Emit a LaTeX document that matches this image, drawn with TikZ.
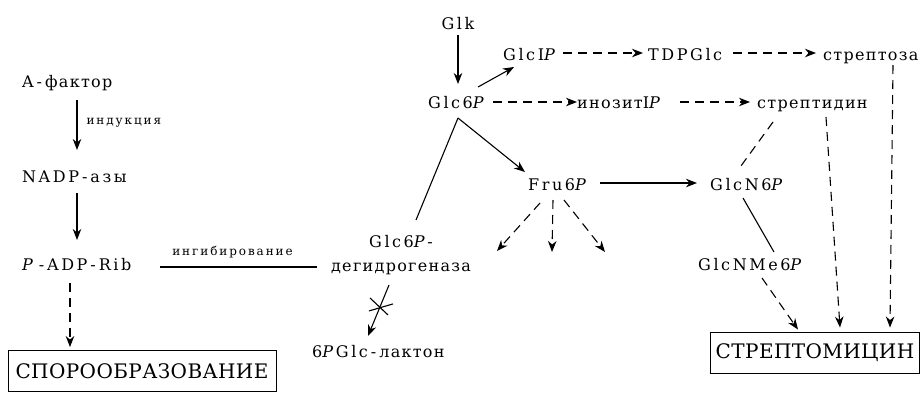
\documentclass[tikz,border=0pt]{standalone}
\usepackage{fontspec}
\setmainfont{DejaVu Serif}[LetterSpace=8]
% Latin names and small labels are set with wider tracking
\newfontfamily\latf{DejaVu Serif}[LetterSpace=16]
\newfontfamily\boxfont{DejaVu Serif}[LetterSpace=2]
\usetikzlibrary{arrows.meta,calc}
% hyphen with a little air on both sides
\newcommand\mhy{\kern3pt-\kern3pt}

\begin{document}
\begin{tikzpicture}[x=1pt,y=-1pt,
  lbl/.style={inner sep=0pt, anchor=base west, font=\fontsize{16}{24}\selectfont},
  lat/.style={lbl, font=\latf\fontsize{16}{24}\selectfont},
  sm/.style={inner sep=0pt, font=\latf\fontsize{12}{15}\selectfont},
  boxnode/.style={draw, line width=0.9pt, inner sep=0pt, minimum height=41pt,
    font=\boxfont\fontsize{20}{24}\selectfont},
  con/.style={line width=1.1pt},
  arr/.style={con, -{Stealth[length=11pt,width=8.5pt,inset=3.5pt]}},
  dsh/.style={dash pattern=on 9pt off 6pt},
]
\useasboundingbox (0,0) rectangle (921,400);

% left column: regulation of sporulation
\node[lbl] (fa) at (22,87) {{\latf A}\mhy фактор};
\node[lat] (nadp) at (22,182) {NADP\mhy азы};
\node[lat] (padp) at (22,270) {\textit{P}\mhy ADP\mhy Rib};
\node[boxnode, minimum width=268pt] (spor) at (142,371) {СПОРООБРАЗОВАНИЕ};

% central metabolism
\node[lat, anchor=base] (glk) at (458,29) {Glk};
\node[lat] (glc1p) at (503,60) {GlcI\textit{P}};
\node[lat] (glc6p) at (428,108) {Glc6\textit{P}};
\node[lbl] (inoz) at (577,108) {инозит{\latf I\textit{P}}};
\node[lat] (tdp) at (648,60) {TDPGlc};
\node[lbl] (sza) at (823,60) {стрептоза};
\node[lbl] (sdin) at (757,108) {стрептидин};
\node[lat] (fru) at (528,190) {Fru6\textit{P}};
\node[lat] (gn6) at (710,190) {GlcN6\textit{P}};
\node[lat] (gnme) at (698,270) {GlcNMe6\textit{P}};
\node[lbl, anchor=center, align=center] (g6pdh) at (401,255)
  {{\latf Glc6\textit{P}-}\\дегидрогеназа};
\node[lbl] (lak) at (312,357) {{\latf 6\textit{P}Glc}\mhy лактон};
\node[boxnode, minimum width=209pt] (strep) at (815,352.5) {СТРЕПТОМИЦИН};

% left column connectors
\draw[arr] ($(fa.base west)+(55,13)$) --
  node[sm, anchor=base west, xshift=9pt, yshift=1pt] {индукция}
  ($(nadp.base west)+(55,-32)$);
\draw[arr] ($(nadp.base west)+(55,11)$) -- ($(padp.base west)+(55,-30)$);
\draw[arr,dsh] ($(padp.base west)+(48,13)$) -- ($(spor.north)+(-72,-3)$);
\draw[con] ($(padp.base west)+(138,-3)$) --
  node[sm, anchor=base, yshift=12pt, xshift=-6pt] {ингибирование}
  ($(g6pdh.center)+(-84,12)$);

% glucose branch points
\coordinate (apex) at ($(glc6p.base west)+(30,10)$);
\draw[arr] ($(glk.base)+(0,6)$) -- ($(glc6p.base west)+(30,-24)$);
\draw[arr] ($(glc6p.base west)+(50,-21)$) -- ($(glc1p.base west)+(11,7)$);
\draw[arr,dsh] ($(glc6p.base west)+(65,-6)$) -- ($(inoz.base west)+(0,-6)$);
\draw[arr,dsh] ($(glc1p.base west)+(60,-7)$) -- ($(tdp.base west)+(-5,-7)$);
\draw[arr,dsh] ($(tdp.base west)+(85,-7)$) -- ($(sza.base west)+(-7,-7)$);
\draw[arr,dsh] ($(inoz.base west)+(103,-6)$) -- ($(sdin.base west)+(-7,-6)$);
\draw[con] (apex) -- ($(g6pdh.center)+(15,-35)$);
\draw[arr] (apex) -- ($(fru.base west)+(-3,-18)$);
\draw[arr] ($(fru.base west)+(72,-7)$) -- ($(gn6.base west)+(-13,-7)$);

% minor outflows from Fru6P
\coordinate (f1) at (497,251);
\coordinate (f2) at (552,252);
\coordinate (f3) at (605,252);
\draw[arr,dsh] ($(fru.base west)+(12,13)$) -- (f1);
\draw[arr,dsh] ($(fru.base west)+(25,10)$) -- (f2);
\draw[arr,dsh] ($(fru.base west)+(36,10)$) -- (f3);

% streptomycin assembly
\draw[con,dsh] ($(sdin.base west)+(16,14)$) -- ($(gn6.base west)+(28,-20)$);
\draw[arr,dsh] ($(sdin.base west)+(69,9)$) -- ($(strep.north)+(25,-4)$);
\draw[arr,dsh] ($(sza.base west)+(70,5)$) -- ($(strep.north)+(75,-4)$);
\draw[con] ($(gn6.base west)+(33,8)$) -- ($(gnme.base west)+(76,-18)$);
\draw[arr,dsh] ($(gnme.base west)+(64,8)$) -- ($(strep.north)+(-17,-2)$);

% blocked dehydrogenase step
\draw[arr] ($(g6pdh.center)+(-12,30)$) -- coordinate[pos=0.43] (blk)
  ($(lak.base west)+(56,-21)$);
\draw[con] ($(blk)+(-10,-9)$) -- ($(blk)+(8,8)$);
\draw[con] ($(blk)+(-11,4)$) -- ($(blk)+(13,-3)$);
\end{tikzpicture}
\end{document}
